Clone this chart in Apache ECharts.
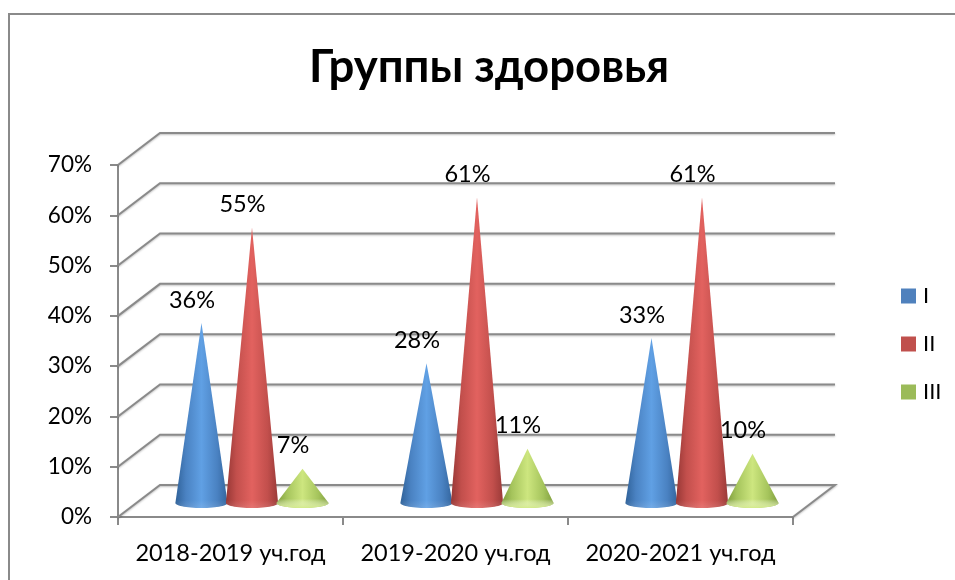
<!DOCTYPE html>
<html>
<head>
<meta charset="utf-8">
<style>html,body{margin:0;padding:0;background:#fff}#chart{width:955px;height:580px}</style>
<script src="https://cdn.jsdelivr.net/npm/echarts@6/dist/echarts.min.js"></script>
</head>
<body>
<div id="chart"></div>
<script>
var categories = ['2018-2019 уч.год', '2019-2020 уч.год', '2020-2021 уч.год'];
var seriesNames = ['I', 'II', 'III'];
var groupI = [36, 28, 33];
var groupII = [55, 61, 61];
var groupIII = [7, 11, 10];
var yTicks = [0, 10, 20, 30, 40, 50, 60, 70];

var FONT = 'Lato, "Open Sans", "Noto Sans", sans-serif';
var LINE = '#8a8a8a';
// сдвиг задней стенки псевдо-3D
var DEPTH_X = 42, DEPTH_Y = -32;

var palettes = [
  {base: '#4f81bd', side: ['#2f6198', '#4a82c2', '#60a0e4', '#4a82c2', '#33659d'], glow: '#8fbcf0'},
  {base: '#c0504d', side: ['#963735', '#c24f4c', '#e2625f', '#c24f4c', '#9a3a38'], glow: '#ee8a88'},
  {base: '#9bbb59', side: ['#7c9a3a', '#a5c45c', '#cde67f', '#a5c45c', '#7f9e3d'], glow: '#d2ea88'}
];

function wallItem(params, api) {
  var cs = params.coordSys;
  var y = api.coord([0, api.value(1)])[1];
  var lineStyle = {
    stroke: LINE, lineWidth: 2, fill: null,
    shadowColor: 'rgba(0,0,0,0.25)', shadowBlur: 2, shadowOffsetY: 1
  };
  var points = [[cs.x, y], [cs.x + DEPTH_X, y + DEPTH_Y], [cs.x + cs.width + DEPTH_X, y + DEPTH_Y]];
  if (api.value(1) === 0) {
    points.push([cs.x + cs.width, y]);
  }
  return {type: 'polyline', shape: {points: points}, style: lineStyle, silent: true};
}

function coneItem(index) {
  var pal = palettes[index];
  return function (params, api) {
    var band = api.size([1, 0])[0];
    var base = api.coord([api.value(0), 0]);
    var top = api.coord([api.value(0), api.value(1)]);
    var cx = base[0] + DEPTH_X / 2 + 0.5 + (index - 1) * band * 0.2245;
    var by = base[1] + DEPTH_Y / 2 + 2;
    var ty = top[1] + DEPTH_Y / 2 + 3;
    var rx = band * 0.116, ry = 5;
    var pts = [[cx, ty]];
    for (var a = 0; a <= 180; a += 6) {
      var r = a * Math.PI / 180;
      pts.push([cx + rx * Math.cos(r), by + ry * Math.sin(r)]);
    }
    var h = by - ty;
    return {
      type: 'group',
      children: [
        {
          type: 'polygon', shape: {points: pts}, silent: true,
          style: {fill: {
            type: 'linear', x: 0, y: 0, x2: 1, y2: 0,
            colorStops: [
              {offset: 0, color: pal.side[0]}, {offset: 0.2, color: pal.side[1]},
              {offset: 0.5, color: pal.side[2]}, {offset: 0.8, color: pal.side[3]},
              {offset: 1, color: pal.side[4]}
            ]
          }}
        },
        {
          type: 'polygon', shape: {points: pts}, silent: true,
          style: {fill: {
            type: 'linear', x: 0, y: 0, x2: 0, y2: 1,
            colorStops: [
              {offset: 0, color: 'rgba(255,255,255,0)'},
              {offset: Math.max(0, 1 - 8 / h), color: 'rgba(255,255,255,0)'},
              {offset: 1, color: index === 2 ? pal.glow : 'rgba(255,255,255,0.12)'}
            ]
          }}
        },
        {
          type: 'text', silent: true, z2: 100,
          style: {
            x: cx - 9.5, y: ty - 23, text: api.value(1) + '%',
            fill: '#000', font: '23.5px ' + FONT, align: 'center', verticalAlign: 'middle'
          }
        }
      ]
    };
  };
}

function pairs(values) {
  return values.map(function (v, i) { return [i, v]; });
}

var option = {
  animation: false,
  backgroundColor: '#fff',
  title: {
    text: 'Группы здоровья', left: 484, top: 39, textAlign: 'center',
    textStyle: {fontFamily: FONT, fontSize: 45.5, fontWeight: 'bold', color: '#000'}
  },
  legend: {
    data: seriesNames, orient: 'vertical', left: 901, top: 285, padding: 0,
    itemWidth: 15, itemHeight: 15, itemGap: 26, icon: 'rect',
    textStyle: {fontFamily: FONT, fontSize: 22, lineHeight: 15, color: '#000', padding: [0, 0, 0, 2]}
  },
  grid: {left: 118, right: 162, top: 165, bottom: 63},
  xAxis: {
    type: 'category', data: categories,
    axisLine: {lineStyle: {color: LINE, width: 2}},
    axisTick: {show: true, interval: 0, length: 8, lineStyle: {color: LINE, width: 2}},
    axisLabel: {interval: 0, hideOverlap: false, fontFamily: FONT, fontSize: 23.5, color: '#000', margin: 24}
  },
  yAxis: {
    type: 'value', min: 0, max: 70, interval: 10,
    axisLine: {show: true, lineStyle: {color: LINE, width: 2}},
    axisTick: {show: true, length: 8, lineStyle: {color: LINE, width: 2}},
    axisLabel: {fontFamily: FONT, fontSize: 22.5, color: '#000', margin: 26, formatter: '{value}%'},
    splitLine: {show: false}
  },
  graphic: [{
    type: 'rect', silent: true,
    shape: {x: 9, y: 14, width: 1000, height: 700},
    style: {fill: null, stroke: '#8a8a8a', lineWidth: 2}
  }],
  series: [
    {type: 'custom', name: 'walls', renderItem: wallItem, data: pairs(yTicks).map(function (p) { return [0, p[1]]; }), silent: true},
    {type: 'custom', name: seriesNames[0], renderItem: coneItem(0), data: pairs(groupI), itemStyle: {color: palettes[0].base}},
    {type: 'custom', name: seriesNames[1], renderItem: coneItem(1), data: pairs(groupII), itemStyle: {color: palettes[1].base}},
    {type: 'custom', name: seriesNames[2], renderItem: coneItem(2), data: pairs(groupIII), itemStyle: {color: palettes[2].base}}
  ]
};

var chart = echarts.init(document.getElementById('chart'));
chart.setOption(option);
</script>
</body>
</html>
